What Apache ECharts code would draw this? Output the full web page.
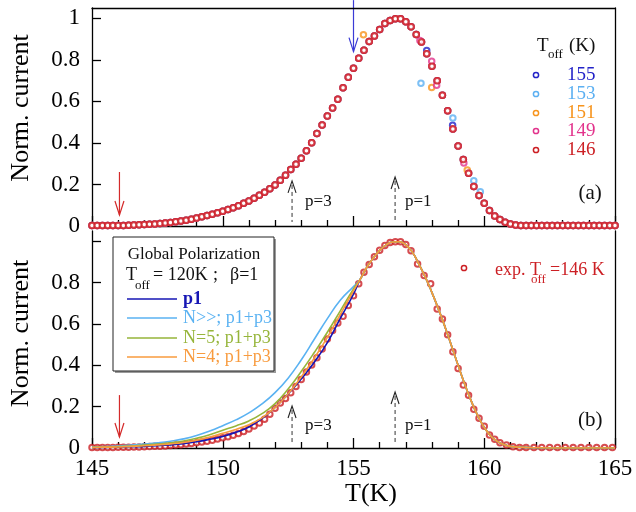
<!DOCTYPE html>
<html>
<head>
<meta charset="utf-8">
<script src="https://cdn.jsdelivr.net/npm/echarts@6/dist/echarts.min.js"></script>
<style>
  html, body { margin: 0; padding: 0; background: #fff; }
  #chart { width: 636px; height: 512px; }
</style>
</head>
<body>
<div id="chart"></div>
<script>
// ---- panel (a): normalised current vs T for several T_off ----
const tempsTop = [
  145.0, 145.2, 145.4, 145.6, 145.8, 146.0, 146.2, 146.4, 146.6, 146.8,
  147.0, 147.2, 147.4, 147.6, 147.8, 148.0, 148.2, 148.4, 148.6, 148.8,
  149.0, 149.2, 149.4, 149.6, 149.8, 150.0, 150.2, 150.4, 150.6, 150.8,
  151.0, 151.2, 151.4, 151.6, 151.8, 152.0, 152.2, 152.4, 152.6, 152.8,
  153.0, 153.2, 153.4, 153.6, 153.8, 154.0, 154.2, 154.4, 154.6, 154.8,
  155.0, 155.2, 155.4, 155.6, 155.8, 156.0, 156.2, 156.4, 156.6, 156.8,
  157.0, 157.2, 157.4, 157.6, 157.8, 158.0, 158.2, 158.4, 158.6, 158.8,
  159.0, 159.2, 159.4, 159.6, 159.8, 160.0, 160.2, 160.4, 160.6, 160.8,
  161.0, 161.2, 161.4, 161.6, 161.8, 162.0, 162.2, 162.4, 162.6, 162.8,
  163.0, 163.2, 163.4, 163.6, 163.8, 164.0, 164.2, 164.4, 164.6, 164.8,
  165.0
];
const i146 = [
  0.002, 0.002, 0.002, 0.002, 0.003, 0.003, 0.003, 0.004, 0.005, 0.006,
  0.007, 0.008, 0.010, 0.012, 0.014, 0.017, 0.020, 0.024, 0.028, 0.033,
  0.038, 0.044, 0.050, 0.057, 0.064, 0.071, 0.079, 0.088, 0.098, 0.109,
  0.121, 0.134, 0.148, 0.163, 0.180, 0.198, 0.220, 0.244, 0.272, 0.298,
  0.326, 0.362, 0.401, 0.445, 0.486, 0.530, 0.568, 0.611, 0.666, 0.717,
  0.760, 0.808, 0.846, 0.889, 0.915, 0.946, 0.975, 0.990, 0.998, 0.998,
  0.984, 0.960, 0.922, 0.886, 0.830, 0.770, 0.700, 0.630, 0.555, 0.467,
  0.385, 0.320, 0.254, 0.190, 0.147, 0.110, 0.075, 0.048, 0.031, 0.018,
  0.010, 0.005, 0.003, 0.002, 0.002, 0.002, 0.002, 0.002, 0.002, 0.002,
  0.002, 0.002, 0.002, 0.002, 0.002, 0.002, 0.002, 0.002, 0.002, 0.002,
  0.002
];
// points of the other runs that stand out from the common curve
const extra155 = [[157.80, 0.845], [158.79, 0.485]];
const extra153 = [[157.58, 0.688], [158.80, 0.520], [159.60, 0.218], [159.85, 0.165]];
const extra151 = [[155.38, 0.921], [157.99, 0.667], [159.35, 0.270]];
const extra149 = [[157.54, 0.894], [157.99, 0.793], [158.18, 0.678], [159.22, 0.304]];

const runNames = ['155', '153', '151', '149', '146'];
const runColors = ['#2323c8', '#5cb0f2', '#f7941d', '#e2338c', '#cc1f24'];

// ---- panel (b): experiment (T_off = 146 K) and fits ----
const expT = [
  145.0, 145.2, 145.4, 145.6, 145.8, 146.0, 146.2, 146.4, 146.6, 146.8,
  147.0, 147.2, 147.4, 147.6, 147.8, 148.0, 148.2, 148.4, 148.6, 148.8,
  149.0, 149.2, 149.4, 149.6, 149.8, 150.0, 150.2, 150.4, 150.6, 150.8,
  151.0, 151.2, 151.4, 151.6, 151.8, 152.0, 152.2, 152.4, 152.6, 152.8,
  153.0, 153.2, 153.4, 153.6, 153.8, 154.0, 154.2, 154.4, 154.6, 154.8,
  155.0, 155.2, 155.4, 155.6, 155.8, 156.0, 156.2, 156.4, 156.6, 156.8,
  157.0, 157.2, 157.45, 157.7, 157.95, 158.2, 158.4, 158.6, 158.8, 159.0,
  159.2, 159.4, 159.6, 159.8, 160.0, 160.2, 160.4, 160.6, 160.85, 161.1,
  161.35, 161.6, 161.9, 162.2, 162.5, 162.8, 163.1, 163.4, 163.7, 164.0,
  164.3, 164.6, 164.9
];
const expI = [
  0.003, 0.003, 0.003, 0.003, 0.003, 0.004, 0.004, 0.004, 0.005, 0.005,
  0.006, 0.007, 0.008, 0.009, 0.010, 0.012, 0.014, 0.016, 0.019, 0.022,
  0.025, 0.029, 0.033, 0.038, 0.043, 0.049, 0.055, 0.062, 0.070, 0.080,
  0.092, 0.106, 0.121, 0.139, 0.163, 0.192, 0.218, 0.240, 0.267, 0.297,
  0.331, 0.368, 0.402, 0.437, 0.479, 0.528, 0.569, 0.605, 0.638, 0.689,
  0.737, 0.795, 0.850, 0.888, 0.926, 0.957, 0.980, 0.994, 0.998, 0.998,
  0.985, 0.955, 0.890, 0.835, 0.795, 0.672, 0.624, 0.548, 0.466, 0.385,
  0.305, 0.255, 0.188, 0.144, 0.105, 0.063, 0.042, 0.026, 0.015, 0.006,
  0.003, 0.002, 0.002, 0.002, 0.002, 0.002, 0.002, 0.002, 0.002, 0.002,
  0.002, 0.002, 0.002
];

// fit curves: rising edge differs, the rest is shared
const fitT = [145, 145.5, 146, 146.5, 147, 147.5, 148, 148.5, 149, 149.5, 150,
              150.5, 151, 151.5, 152, 152.5, 153, 153.5, 154, 154.5, 155];
const fitP1  = [0.002, 0.003, 0.004, 0.006, 0.008, 0.011, 0.015, 0.021, 0.030, 0.042, 0.056,
                0.076, 0.102, 0.142, 0.196, 0.262, 0.334, 0.415, 0.510, 0.628, 0.745];
const fitNinf = [0.005, 0.007, 0.010, 0.014, 0.019, 0.025, 0.033, 0.044, 0.060, 0.082, 0.108,
                 0.136, 0.170, 0.213, 0.268, 0.338, 0.426, 0.526, 0.626, 0.716, 0.781];
const fitN5  = [0.003, 0.005, 0.007, 0.010, 0.014, 0.019, 0.025, 0.034, 0.047, 0.064, 0.086,
                0.107, 0.131, 0.166, 0.215, 0.285, 0.370, 0.462, 0.560, 0.665, 0.770];
const fitN4  = [0.002, 0.004, 0.005, 0.008, 0.011, 0.015, 0.020, 0.027, 0.038, 0.053, 0.071,
                0.090, 0.113, 0.146, 0.195, 0.262, 0.344, 0.435, 0.535, 0.648, 0.760];
const tailT = [155.25, 155.5, 155.75, 156, 156.25, 156.5, 156.75, 157, 157.25, 157.5,
               157.75, 158, 158.25, 158.5, 158.75, 159, 159.25, 159.5, 159.75, 160,
               160.25, 160.5, 160.75, 161, 161.5, 162, 163, 164, 165];
const tailFit = [0.815, 0.872, 0.918, 0.956, 0.983, 0.997, 0.998, 0.983, 0.948, 0.890,
                 0.826, 0.752, 0.672, 0.586, 0.494, 0.400, 0.310, 0.228, 0.157, 0.100,
                 0.058, 0.032, 0.017, 0.008, 0.003, 0.001, 0, 0, 0];

const fitNames = ['p1', 'N>>; p1+p3', 'N=5; p1+p3', 'N=4; p1+p3'];
const fitColors = ['#1616b4', '#5ab2f2', '#96b53a', '#f89b3e'];
const fitValues = [fitP1, fitNinf, fitN5, fitN4];

const yTicks = [0, 0.2, 0.4, 0.6, 0.8, 1];
const yLabelsTop = [0, 0.2, 0.4, 0.6, 0.8, 1];
const yLabelsBottom = [0, 0.2, 0.4, 0.6, 0.8];

const serif = 'Liberation Serif';
const pairs = (xs, ys) => xs.map((x, i) => [x, ys[i]]);

const frameLine = { show: true, onZero: false, lineStyle: { color: '#000', width: 1.3 } };
const tickStyle = { color: '#000', width: 1.3 };

function xAxisFor(grid, withLabels) {
  return {
    gridIndex: grid, type: 'value', min: 145, max: 165, interval: 5,
    axisLine: frameLine,
    axisTick: { inside: true, length: 10, lineStyle: tickStyle },
    minorTick: { show: true, splitNumber: 5, length: 6, lineStyle: tickStyle },
    splitLine: { show: false },
    axisLabel: withLabels
      ? { show: true, fontFamily: serif, fontSize: 23, color: '#000', margin: 9 }
      : { show: false },
    name: withLabels ? 'T(K)' : '',
    nameLocation: 'middle', nameGap: 18,
    nameTextStyle: { fontFamily: serif, fontSize: 26, color: '#000', padding: [0, 0, 0, 35] }
  };
}
function yAxisFor(grid, labels, pad) {
  return {
    gridIndex: grid, type: 'value', min: 0, max: 1.05,
    axisLine: frameLine,
    axisTick: { inside: true, length: 9, lineStyle: tickStyle, customValues: yTicks },
    splitLine: { show: false },
    axisLabel: { fontFamily: serif, fontSize: 23, color: '#000', margin: 12, customValues: labels },
    name: 'Norm. current', nameLocation: 'middle', nameGap: 58,
    nameTextStyle: { fontFamily: serif, fontSize: 26, color: '#000', padding: [0, 0, 0, pad] }
  };
}
function frameAxis(kind, grid, pos) {
  const a = {
    gridIndex: grid, type: 'value', position: pos,
    axisLine: frameLine, axisTick: { show: false }, axisLabel: { show: false }, splitLine: { show: false }
  };
  if (kind === 'x') { a.min = 145; a.max = 165; } else { a.min = 0; a.max = 1.05; }
  return a;
}

const series = [];
const extras = [extra155, extra153, extra151, extra149, []];
runNames.forEach((name, k) => {
  series.push({
    name: 'a' + name, type: 'scatter', xAxisIndex: 0, yAxisIndex: 0,
    data: pairs(tempsTop, i146).concat(extras[k]),
    symbol: 'emptyCircle', symbolSize: 5.5,
    itemStyle: { color: runColors[k], borderWidth: 1.5 },
    silent: true, animation: false
  });
});
fitNames.forEach((name, k) => {
  series.push({
    name: name, type: 'line', xAxisIndex: 2, yAxisIndex: 2,
    data: pairs(fitT, fitValues[k]).concat(pairs(tailT, tailFit)),
    smooth: 0.5, showSymbol: false,
    lineStyle: { color: fitColors[k], width: 1.6 },
    silent: true, animation: false
  });
});
series.push({
  name: 'exp', type: 'scatter', xAxisIndex: 2, yAxisIndex: 2,
  data: pairs(expT, expI),
  symbol: 'emptyCircle', symbolSize: 5.5,
  itemStyle: { color: '#cc1f24', borderWidth: 1.5 },
  silent: true, animation: false
});

const option = {
  backgroundColor: '#fff',
  animation: false,
  grid: [
    { left: 92, width: 523, top: 8, height: 218 },
    { left: 92, width: 523, top: 231, height: 217 }
  ],
  xAxis: [xAxisFor(0, false), frameAxis('x', 0, 'top'), xAxisFor(1, true)],
  yAxis: [yAxisFor(0, yLabelsTop, 18), frameAxis('y', 0, 'right'),
          yAxisFor(1, yLabelsBottom, 12), frameAxis('y', 1, 'right')],
  series: series
};

const chart = echarts.init(document.getElementById('chart'));
chart.setOption(option);

// ---- annotations ----
function P(panel, x, y) {
  const idx = panel === 0 ? 0 : 2;
  return chart.convertToPixel({ xAxisIndex: idx, yAxisIndex: idx }, [x, y]);
}
const g = [];
function txt(x, y, text, size, color, extra) {
  g.push({ type: 'text', x: x, y: y, silent: true,
    style: Object.assign({ text: text, fontFamily: serif, fontSize: size, fill: color,
      align: 'left', verticalAlign: 'middle' }, extra || {}) });
}
function downArrow(panel, t, vFrom, vTip, color) {
  const a = P(panel, t, vFrom), b = P(panel, t, vTip);
  g.push({ type: 'line', silent: true, shape: { x1: a[0], y1: a[1], x2: b[0], y2: b[1] },
    style: { stroke: color, lineWidth: 1.2 } });
  g.push({ type: 'polyline', silent: true,
    shape: { points: [[b[0] - 4.5, b[1] - 14], [b[0], b[1]], [b[0] + 4.5, b[1] - 14]] },
    style: { stroke: color, lineWidth: 1.2, fill: null } });
}
function caret(panel, t, vApex) {
  const a = P(panel, t, vApex), b = P(panel, t, 0);
  g.push({ type: 'polyline', silent: true,
    shape: { points: [[a[0] - 4, a[1] + 12], [a[0], a[1]], [a[0] + 4, a[1] + 12]] },
    style: { stroke: '#222', lineWidth: 1.1, fill: null } });
  g.push({ type: 'line', silent: true, shape: { x1: a[0], y1: a[1] + 4, x2: b[0], y2: b[1] - 4 },
    style: { stroke: '#333', lineWidth: 1, lineDash: [4, 3] } });
}

// panel (a)
downArrow(0, 146.05, 0.26, 0.053, '#d42a2a');
downArrow(0, 155.0, 1.088, 0.84, '#3b3bd6');
caret(0, 152.65, 0.217);
caret(0, 156.59, 0.236);
let q = P(0, 153.15, 0.116); txt(q[0], q[1], 'p=3', 17, '#111');
q = P(0, 156.97, 0.116); txt(q[0], q[1], 'p=1', 17, '#111');
q = P(0, 164.05, 0.159); txt(q[0], q[1], '(a)', 21, '#111', { align: 'center' });

// legend (a)
txt(537, 46, 'T', 19, '#111');
txt(548, 55, 'off', 13, '#111');
txt(569, 46, '(K)', 19, '#111');
const legY = [75, 94, 113, 131, 150];
runNames.forEach((name, k) => {
  g.push({ type: 'circle', silent: true, shape: { cx: 536, cy: legY[k], r: 2.6 },
    style: { stroke: runColors[k], lineWidth: 1.5, fill: '#fff' } });
  txt(567, legY[k], name, 19, runColors[k]);
});

// panel (b)
downArrow(1, 146.05, 0.256, 0.053, '#d42a2a');
caret(1, 152.65, 0.203);
caret(1, 156.59, 0.271);
q = P(1, 153.15, 0.111); txt(q[0], q[1], 'p=3', 17, '#111');
q = P(1, 156.97, 0.111); txt(q[0], q[1], 'p=1', 17, '#111');
q = P(1, 164.05, 0.135); txt(q[0], q[1], '(b)', 21, '#111', { align: 'center' });

// exp label
g.push({ type: 'circle', silent: true, shape: { cx: 464, cy: 268, r: 2.6 },
  style: { stroke: '#cc1f24', lineWidth: 1.5, fill: '#fff' } });
txt(495, 270, 'exp. T', 18, '#cc1f24');
txt(531, 280, 'off', 13, '#cc1f24');
txt(550, 270, '=146 K', 18, '#cc1f24');

// legend box (b)
g.push({ type: 'rect', silent: true, shape: { x: 115, y: 239, width: 161, height: 134 },
  style: { fill: '#9a9a9a' } });
g.push({ type: 'rect', silent: true, shape: { x: 113, y: 237, width: 161, height: 134 },
  style: { fill: '#fff', stroke: '#222', lineWidth: 1 } });
txt(194, 255, 'Global Polarization', 17, '#111', { align: 'center' });
txt(126, 275, 'T', 18, '#111');
txt(135, 286, 'off', 13, '#111');
txt(153, 275, '= 120K', 18, '#111');
txt(213, 275, ';', 18, '#111');
txt(230, 275, '\u03b2=1', 18, '#111');
const boxY = [299, 318, 338, 357];
fitNames.forEach((name, k) => {
  g.push({ type: 'line', silent: true, shape: { x1: 127, y1: boxY[k], x2: 177, y2: boxY[k] },
    style: { stroke: fitColors[k], lineWidth: 1.6 } });
  txt(183, boxY[k], name, 18, fitColors[k], k === 0 ? { fontWeight: 'bold' } : null);
});

chart.setOption({ graphic: { elements: g } });
</script>
</body>
</html>
